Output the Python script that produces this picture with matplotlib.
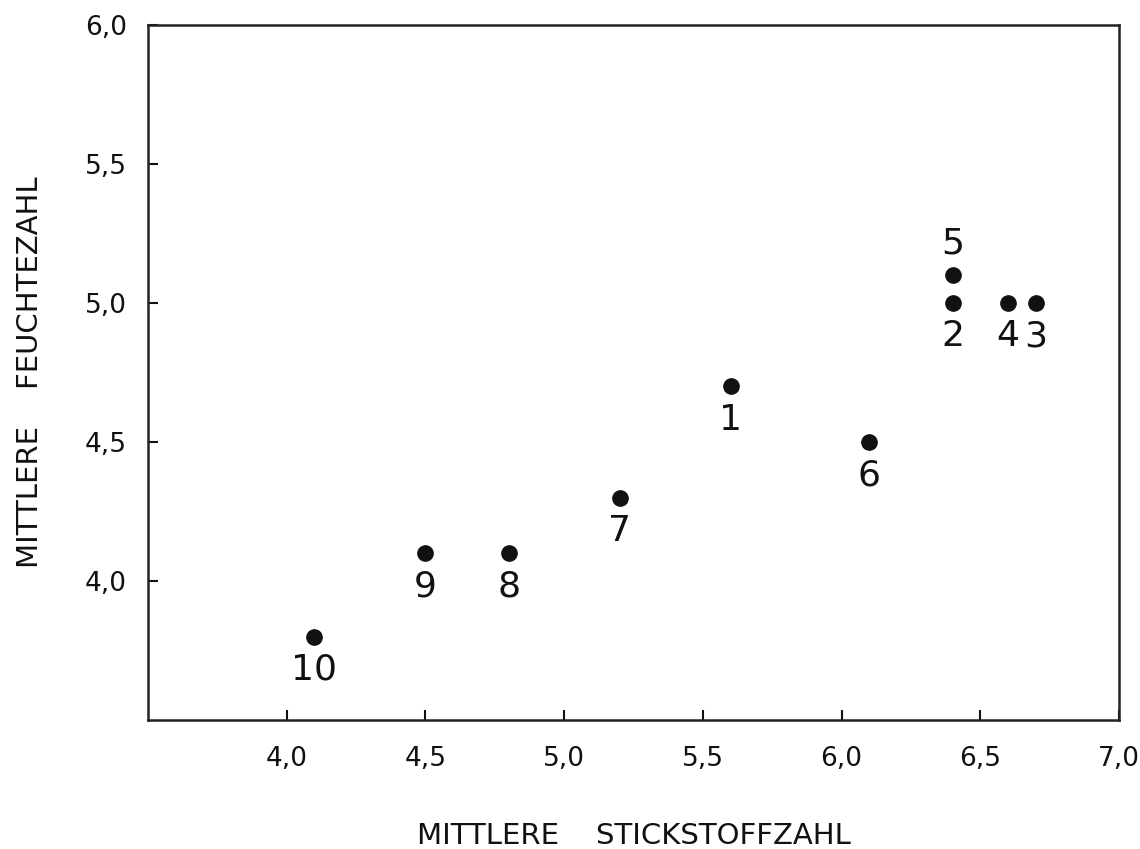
import matplotlib
matplotlib.use("Agg")
import matplotlib.pyplot as plt
from matplotlib.ticker import FixedLocator, FuncFormatter

# Site means: nitrogen value (x) vs. moisture value (y), numbered sites
site_ids = ["1", "2", "3", "4", "5", "6", "7", "8", "9", "10"]
stickstoff = [5.6, 6.4, 6.7, 6.6, 6.4, 6.1, 5.2, 4.8, 4.5, 4.1]
feuchte = [4.7, 5.0, 5.0, 5.0, 5.1, 4.5, 4.3, 4.1, 4.1, 3.8]
label_above = ["5"]

x_ticks = [4.0, 4.5, 5.0, 5.5, 6.0, 6.5, 7.0]
y_ticks = [4.0, 4.5, 5.0, 5.5, 6.0]

plt.rcParams["font.family"] = ["DejaVu Sans"]

fig = plt.figure(figsize=(11.4, 8.49), dpi=100)
ax = fig.add_axes([0.1298, 0.152, 0.8518, 0.8186])

ax.plot(stickstoff, feuchte, "o", color="#111111", markersize=11, linestyle="none")

for sid, xv, yv in zip(site_ids, stickstoff, feuchte):
    dy = 23 if sid in label_above else -24
    ax.annotate(sid, (xv, yv), xytext=(0, dy), textcoords="offset points",
                ha="center", va="center", fontsize=26, color="#111111")

ax.set_xlim(3.5, 7.0)
ax.set_ylim(3.5, 6.0)
ax.xaxis.set_major_locator(FixedLocator(x_ticks))
ax.yaxis.set_major_locator(FixedLocator(y_ticks))
comma = FuncFormatter(lambda v, p: f"{v:.1f}".replace(".", ","))
ax.xaxis.set_major_formatter(comma)
ax.yaxis.set_major_formatter(comma)

ax.tick_params(direction="in", length=7, width=1.5, labelsize=19,
               colors="#111111", top=False, right=False)
ax.tick_params(axis="x", pad=19)
ax.tick_params(axis="y", pad=15)
for s in ax.spines.values():
    s.set_linewidth(1.8)
    s.set_color("#222222")

ax.set_xlabel("MITTLERE    STICKSTOFFZAHL", fontsize=21, color="#111111",
              va="center", ha="center")
ax.set_ylabel("MITTLERE    FEUCHTEZAHL", fontsize=21, color="#111111",
              va="center", ha="center")
ax.xaxis.set_label_coords(0.5, -0.167)
ax.yaxis.set_label_coords(-0.1215, 0.5)

fig.savefig("out.png", dpi=100)
